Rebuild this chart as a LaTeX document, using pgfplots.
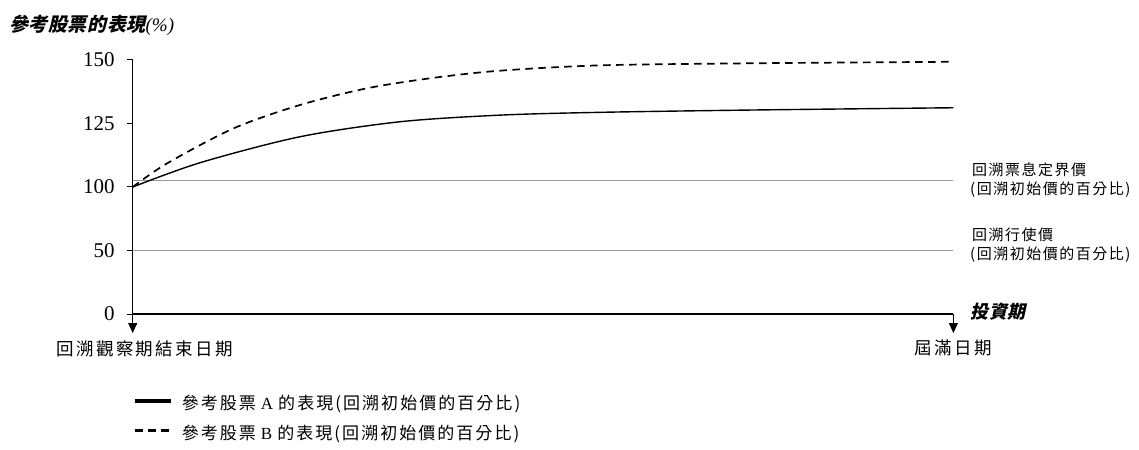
\documentclass[border=0pt]{standalone}
\usepackage{fontspec}
\usepackage{pgfplots}
\pgfplotsset{compat=1.18}
\usetikzlibrary{arrows.meta}
\setmainfont{Liberation Serif}
\newfontfamily\cjk{Noto Sans CJK TC}
\newfontfamily\cjkbi{Noto Sans CJK TC}[FakeSlant=0.22]
\newcommand{\biglab}[1]{{\cjk\fontsize{17.5bp}{20bp}\selectfont\addfontfeatures{LetterSpace=14}#1}}
\newcommand{\sidelab}[1]{{\cjk\fontsize{15bp}{17bp}\selectfont\addfontfeatures{LetterSpace=10}#1}}
\newcommand{\leglab}[1]{{\cjk\fontsize{17bp}{19bp}\selectfont\addfontfeatures{LetterSpace=12}#1}}
\pgfplotsset{
  legA/.style={legend image code/.code={\draw[black,line width=3.5bp] (0bp,4.5bp) -- (36bp,4.5bp); \path (47bp,0bp);}},
  legB/.style={legend image code/.code={\draw[black,line width=3bp,dash pattern=on 8bp off 5bp] (0bp,4.5bp) -- (36bp,4.5bp); \path (47bp,0bp);}},
}
\begin{document}
\begin{tikzpicture}
\path[use as bounding box] (0,0) rectangle (1139bp,450bp);
\begin{axis}[
  at={(132.7bp,136bp)}, anchor=south west,
  scale only axis, width=820.7bp, height=254bp,
  xmin=0, xmax=100, ymin=0, ymax=150,
  y coord trafo/.code={\pgfmathparse{#1<=100 ? #1/50 : 2+(#1-100)/25}},
  y coord inv trafo/.code={\pgfmathparse{#1<=2 ? #1*50 : 100+(#1-2)*25}},
  axis x line=bottom, axis y line=left,
  axis line style={-, line width=1.1bp, black},
  xtick=\empty,
  ytick={0,50,100,125,150}, yticklabels={0,50,100,125,150},
  tick align=outside, major tick length=6bp,
  tick style={line width=1bp, black},
  yticklabel style={font=\fontsize{21bp}{24bp}\selectfont, anchor=east, inner sep=0pt, xshift=-12bp},
  clip=false,
  legend style={at={(0,-0.329)}, anchor=north west, draw=none, fill=none, inner sep=0pt, row sep=15bp,
    nodes={inner sep=0pt, text height=12bp, text depth=3bp, anchor=west},
    font=\fontsize{17bp}{19bp}\selectfont},
  legend cell align=left,
]
\addplot[black!40, line width=0.9bp, forget plot] coordinates {(0,102.5) (100,102.5)};
\addplot[black!40, line width=0.9bp, forget plot] coordinates {(0,50) (100,50)};
\addplot[black, line width=1.4bp, smooth, forget plot] coordinates {
 (0,100) (8.25,109.6) (20.4,119.8) (32.6,125.7) (44.8,128.3) (57.0,129.4) (75.3,130.3) (100,131.2)};
\addplot[black, line width=1.7bp, dash pattern=on 7.5bp off 5.5bp, smooth, forget plot] coordinates {
 (0,100) (4.19,109.3) (12.3,123.1) (20.4,132.3) (28.6,138.9) (36.7,143.0) (44.8,145.8) (57.0,147.9) (75.3,148.7) (100,149.3)};
\addlegendimage{legA}
\addlegendentry{\leglab{參考股票}\hspace{5bp}A\hspace{5bp}\leglab{的表現(回溯初始價的百分比)}}
\addlegendimage{legB}
\addlegendentry{\leglab{參考股票}\hspace{5bp}B\hspace{5bp}\leglab{的表現(回溯初始價的百分比)}}
\draw[line width=1.1bp, -{Stealth[length=10bp,width=9bp,inset=0pt]}] (axis cs:0,0) -- ++(0,-19bp);
\draw[line width=1.1bp, -{Stealth[length=10bp,width=9bp,inset=0pt]}] (axis cs:100,0) -- ++(0,-19bp);
\end{axis}
\node[anchor=west, inner sep=0pt] at (9bp,425bp) {{\cjkbi\bfseries\fontsize{19bp}{22bp}\selectfont\addfontfeatures{LetterSpace=3}參考股票的表現}{\fontsize{19bp}{22bp}\selectfont\itshape(\%)}};
\node[anchor=west, inner sep=0pt] at (970bp,138.3bp) {{\cjkbi\bfseries\fontsize{18bp}{20bp}\selectfont\addfontfeatures{LetterSpace=5}投資期}};
\node[anchor=west, inner sep=0pt] at (972bp,280bp) {\sidelab{回溯票息定界價}};
\node[anchor=west, inner sep=0pt] at (970bp,260bp) {\sidelab{(回溯初始價的百分比)}};
\node[anchor=west, inner sep=0pt] at (972bp,215bp) {\sidelab{回溯行使價}};
\node[anchor=west, inner sep=0pt] at (970bp,195bp) {\sidelab{(回溯初始價的百分比)}};
\node[anchor=west, inner sep=0pt] at (56bp,101bp) {\biglab{回溯觀察期結束日期}};
\node[anchor=west, inner sep=0pt] at (914bp,102bp) {\biglab{屆滿日期}};
\end{tikzpicture}
\end{document}
